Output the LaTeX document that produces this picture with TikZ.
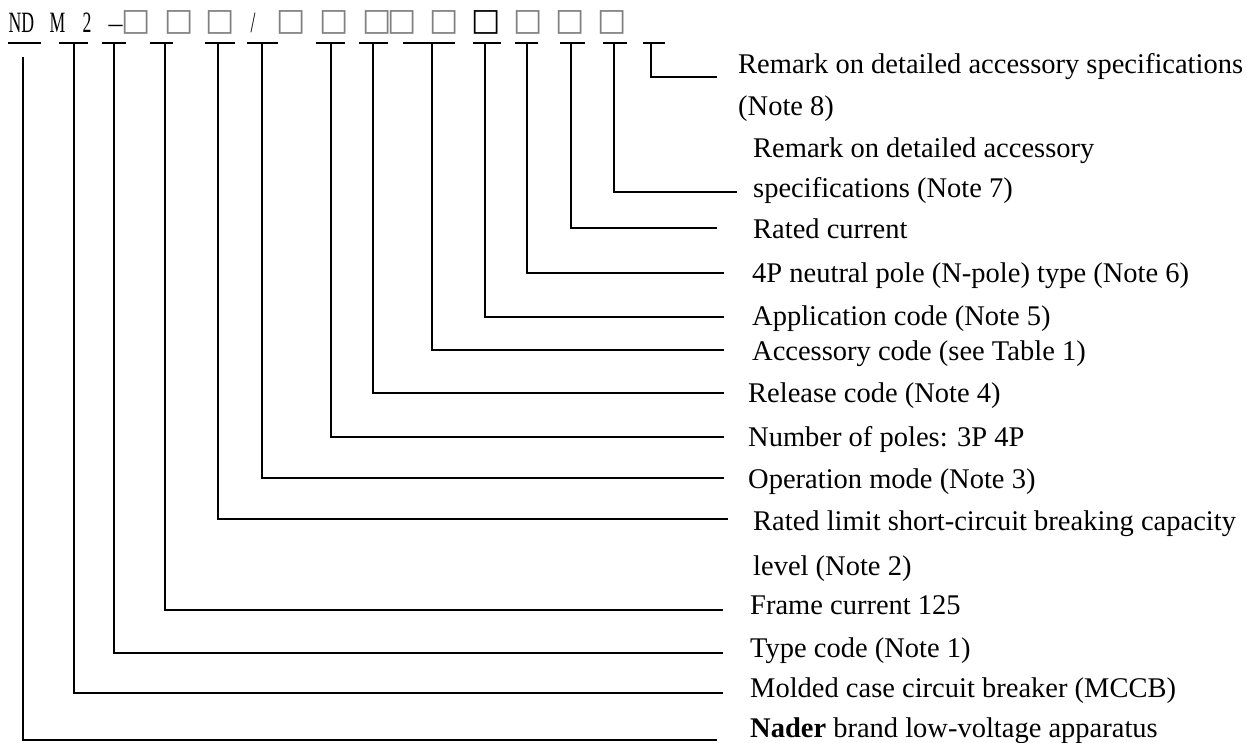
\documentclass[tikz,border=0pt]{standalone}
\usepackage{fontspec}
\setmainfont{Liberation Serif}
\newfontfamily\codefont[FakeStretch=0.6]{Liberation Serif}
\newfontfamily\slotfont{DejaVu Sans}
\usetikzlibrary{calc}
\tikzset{lead/.style={line width=2pt},
  code/.style={inner sep=0pt, anchor=base, font=\codefont\fontsize{29.5}{30}\selectfont},
  slot/.style={inner sep=0pt, text=black!50, font=\slotfont\fontsize{31}{31}\selectfont},
  desc/.style={inner sep=0pt, anchor=base west, font=\fontsize{28.5}{30}\selectfont}}

\begin{document}
\begin{tikzpicture}[x=1pt, y=-1pt]
  \useasboundingbox (0,0) rectangle (1247,742);
  % model code on top
  \node[code] (nd) at (21.5,32) {ND};
  \node[code] (m) at (57.5,32) {M};
  \node[code] (two) at (87,32) {2};
  \node[code, font=\fontsize{28}{28}\selectfont] (dash) at (115.5,32) {–};
  \node[code] (slash) at (253,32) {/};
  \node[slot] (s1) at (136,22.5) {□};
  \node[slot] (s2) at (179,22.5) {□};
  \node[slot] (s3) at (220,22.5) {□};
  \node[slot] (s4) at (291,22.5) {□};
  \node[slot] (s5) at (334,22.5) {□};
  \node[slot] (s6) at (377.5,22.5) {□};
  \node[slot] (s7) at (402.5,22.5) {□};
  \node[slot] (s8) at (444,22.5) {□};
  \node[slot, text=black, font=\slotfont\bfseries\fontsize{31}{31}\selectfont] (s9) at (486.5,22.5) {□};
  \node[slot] (s10) at (528,22.5) {□};
  \node[slot] (s11) at (570.5,22.5) {□};
  \node[slot] (s12) at (612.5,22.5) {□};

  % brand
  \coordinate (u1) at (23,43);
  \coordinate (e1) at (717,740);
  \draw[lead] ($(u1)+(-15,0)$) -- ($(u1)+(18,0)$);
  \draw[lead] ($(u1)+(0,14)$) |- (e1);
  \node[desc] (brand) at (750,737) {\textbf{Nader} brand low-voltage apparatus};
  % MCCB
  \coordinate (u2) at (74,43);
  \coordinate (e2) at (723,693);
  \draw[lead] ($(u2)+(-15,0)$) -- ($(u2)+(14,0)$);
  \draw[lead] (u2) |- (e2);
  \node[desc] (mccb) at (750,697) {Molded case circuit breaker (MCCB)};
  % type code
  \coordinate (u3) at (114,43);
  \coordinate (e3) at (723,653);
  \draw[lead] ($(u3)+(-12,0)$) -- ($(u3)+(12,0)$);
  \draw[lead] (u3) |- (e3);
  \node[desc] (type) at (750,657) {Type code (Note 1)};
  % frame current
  \coordinate (u4) at (165,43);
  \coordinate (e4) at (723,610);
  \draw[lead] ($(u4)+(-15,0)$) -- ($(u4)+(8,0)$);
  \draw[lead] (u4) |- (e4);
  \node[desc] (frame) at (750,614) {Frame current 125};
  % breaking capacity
  \coordinate (u5) at (218,43);
  \coordinate (e5) at (728,519);
  \draw[lead] ($(u5)+(-13,0)$) -- ($(u5)+(17,0)$);
  \draw[lead] (u5) |- (e5);
  \node[desc] (break) at (753,530) {Rated limit short-circuit breaking capacity};
  \node[desc] (break2) at (753,575) {level (Note 2)};
  % operation mode
  \coordinate (u6) at (262,43);
  \coordinate (e6) at (724,478);
  \draw[lead] ($(u6)+(-15,0)$) -- ($(u6)+(16,0)$);
  \draw[lead] (u6) |- (e6);
  \node[desc] (mode) at (748,488) {Operation mode (Note 3)};
  % poles
  \coordinate (u7) at (331,43);
  \coordinate (e7) at (724,437);
  \draw[lead] ($(u7)+(-15,0)$) -- ($(u7)+(14,0)$);
  \draw[lead] (u7) |- (e7);
  \node[desc] (poles) at (748,446) {Number of poles: 3P 4P};
  % release
  \coordinate (u8) at (373,43);
  \coordinate (e8) at (724,393);
  \draw[lead] ($(u8)+(-14,0)$) -- ($(u8)+(15,0)$);
  \draw[lead] (u8) |- (e8);
  \node[desc] (release) at (748,402) {Release code (Note 4)};
  % accessory
  \coordinate (u9) at (432,43);
  \coordinate (e9) at (724,350);
  \draw[lead] ($(u9)+(-29,0)$) -- ($(u9)+(23,0)$);
  \draw[lead] (u9) |- (e9);
  \node[desc] (acc) at (752,360) {Accessory code (see Table 1)};
  % application
  \coordinate (u10) at (485,43);
  \coordinate (e10) at (724,317);
  \draw[lead] ($(u10)+(-12,0)$) -- ($(u10)+(16,0)$);
  \draw[lead] (u10) |- (e10);
  \node[desc] (appl) at (752,325) {Application code (Note 5)};
  % N-pole
  \coordinate (u11) at (527,43);
  \coordinate (e11) at (724,273);
  \draw[lead] ($(u11)+(-12,0)$) -- ($(u11)+(11,0)$);
  \draw[lead] (u11) |- (e11);
  \node[desc] (npole) at (752,282) {4P neutral pole (N-pole) type (Note 6)};
  % rated current
  \coordinate (u12) at (571,43);
  \coordinate (e12) at (717,228);
  \draw[lead] ($(u12)+(-11,0)$) -- ($(u12)+(14,0)$);
  \draw[lead] (u12) |- (e12);
  \node[desc] (rated) at (753,238) {Rated current};
  % note 7
  \coordinate (u13) at (614,43);
  \coordinate (e13) at (737,192);
  \draw[lead] ($(u13)+(-11,0)$) -- ($(u13)+(13,0)$);
  \draw[lead] (u13) |- (e13);
  \node[desc] (note7) at (753,157) {Remark on detailed accessory};
  \node[desc] (note7b) at (753,197) {specifications (Note 7)};
  % note 8
  \coordinate (u14) at (651,43);
  \coordinate (e14) at (717,77);
  \draw[lead] ($(u14)+(-8,0)$) -- ($(u14)+(14,0)$);
  \draw[lead] (u14) |- (e14);
  \node[desc] (note8) at (738,73) {Remark on detailed accessory specifications};
  \node[desc] (note8b) at (738,115) {(Note 8)};
\end{tikzpicture}
\end{document}
